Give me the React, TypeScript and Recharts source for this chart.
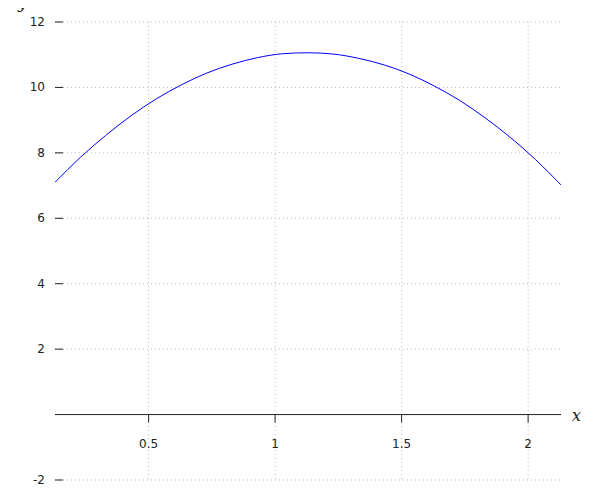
import React from "react";
import { LineChart, Line, XAxis, YAxis, CartesianGrid, ReferenceLine, Customized } from "recharts";

// values
const xValues = [0.13, 0.23, 0.33, 0.43, 0.53, 0.63, 0.73, 0.83, 0.93, 1.03, 1.13, 1.23, 1.33, 1.43, 1.53, 1.63, 1.73, 1.83, 1.93, 2.03, 2.13];
const yValues = [7.1, 7.86, 8.53, 9.13, 9.65, 10.08, 10.44, 10.71, 10.91, 11.03, 11.06, 11.02, 10.89, 10.69, 10.41, 10.04, 9.6, 9.07, 8.47, 7.79, 7.02];

const xTicks = [0.5, 1, 1.5, 2];
const yTicks = [-2, 2, 4, 6, 8, 10, 12];
const xDomain = [0.13, 2.13];
const yDomain = [-2, 12];

const W = 600;
const H = 500;
const M = { top: 22, right: 39, bottom: 19, left: 54 };
const PLOT_LEFT = 55;
const PLOT_H = 458;
const ZERO_Y = M.top + (PLOT_H * (yDomain[1] - 0)) / (yDomain[1] - yDomain[0]);

const FONT = "DejaVu Sans, sans-serif";

const data = xValues.map((x, i) => ({ x, y: yValues[i] }));

const renderXTick = (props: any) => {
  const { x, payload } = props;
  return (
    <g key={`xt-${payload.value}`}>
      <line x1={x} x2={x} y1={ZERO_Y} y2={ZERO_Y + 8} stroke="#222" strokeWidth={1} />
      <text x={x} y={ZERO_Y + 33} textAnchor="middle" fontSize={12} fontFamily={FONT} fill="#222">
        {payload.value}
      </text>
    </g>
  );
};

const renderYTick = (props: any) => {
  const { y, payload } = props;
  return (
    <g key={`yt-${payload.value}`}>
      <line x1={PLOT_LEFT} x2={PLOT_LEFT + 8} y1={y} y2={y} stroke="#222" strokeWidth={1} />
      <text x={PLOT_LEFT - 10} y={y + 4} textAnchor="end" fontSize={12} fontFamily={FONT} fill="#222">
        {payload.value}
      </text>
    </g>
  );
};

const AxisNames = () => (
  <g fontFamily="DejaVu Serif, serif" fontStyle="italic" fontSize={16} fill="#222">
    <text x={18} y={8}>y</text>
    <text x={572} y={421}>x</text>
  </g>
);

export default function App() {
  return (
    <div style={{ margin: -8 }}>
      <LineChart width={W} height={H} data={data} margin={M}>
        <CartesianGrid
          stroke="#bbb"
          strokeDasharray="1 3"
          verticalValues={xTicks}
          horizontalValues={yTicks}
        />
        <XAxis
          dataKey="x"
          type="number"
          domain={xDomain}
          ticks={xTicks}
          allowDataOverflow
          height={1}
          axisLine={false}
          tickLine={false}
          tick={renderXTick}
          interval={0}
        />
        <YAxis
          type="number"
          domain={yDomain}
          ticks={yTicks}
          allowDataOverflow
          width={1}
          axisLine={false}
          tickLine={false}
          tick={renderYTick}
          interval={0}
        />
        <ReferenceLine y={0} stroke="#222" strokeWidth={1} />
        <Line
          type="monotone"
          dataKey="y"
          stroke="#0000ff"
          strokeWidth={1}
          dot={false}
          isAnimationActive={false}
        />
        <Customized component={AxisNames} />
      </LineChart>
    </div>
  );
}
